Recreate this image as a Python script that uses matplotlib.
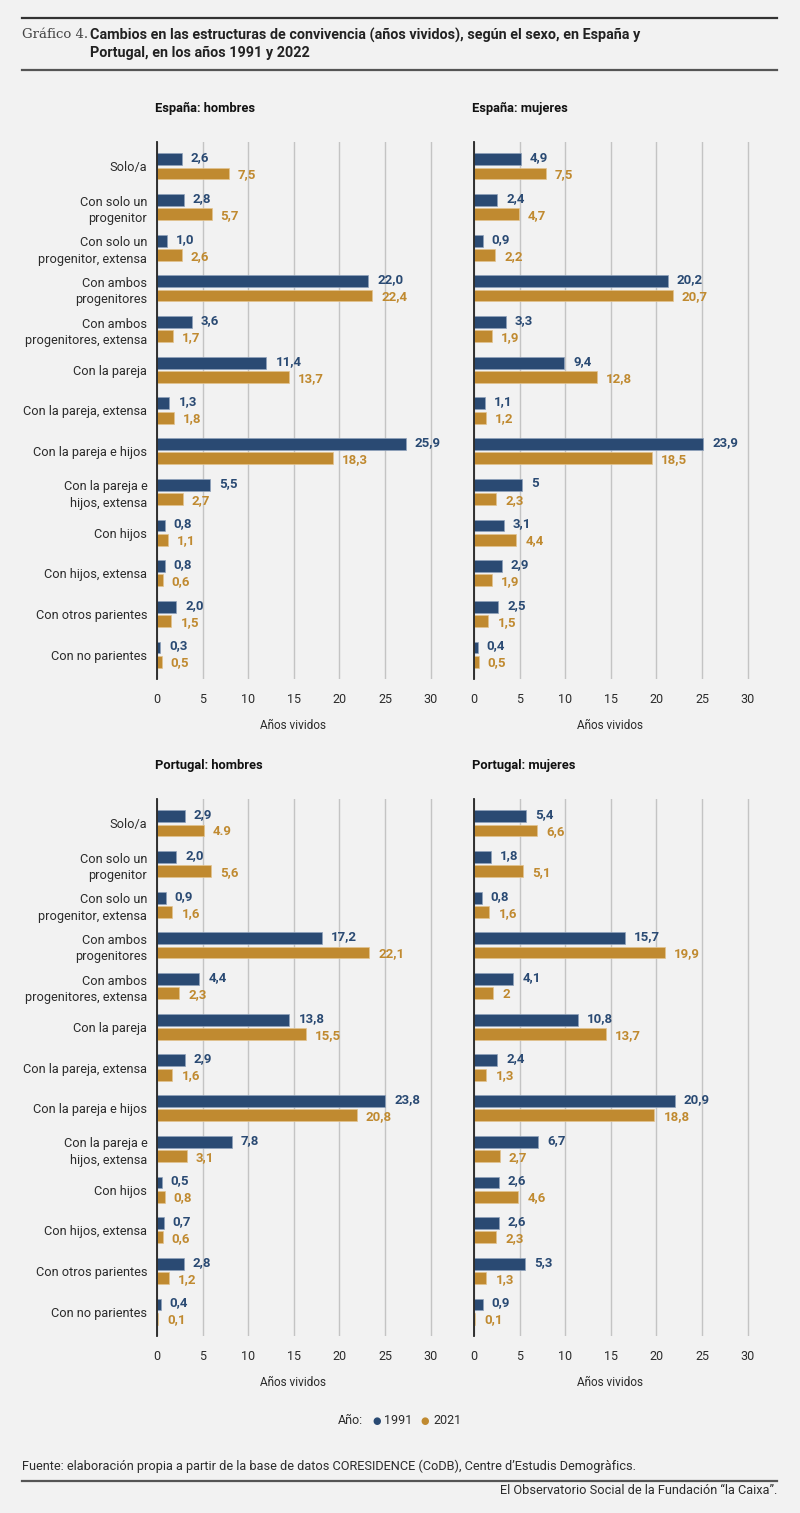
import matplotlib.pyplot as plt
from matplotlib.lines import Line2D

W, H = 800, 1513

categories = ["Solo/a", "Con solo un\nprogenitor", "Con solo un\nprogenitor, extensa",
              "Con ambos\nprogenitores", "Con ambos\nprogenitores, extensa", "Con la pareja",
              "Con la pareja, extensa", "Con la pareja e hijos", "Con la pareja e\nhijos, extensa",
              "Con hijos", "Con hijos, extensa", "Con otros parientes", "Con no parientes"]

# labels as printed in the chart (values parsed from them)
es_h_1991 = ["2,6", "2,8", "1,0", "22,0", "3,6", "11,4", "1,3", "25,9", "5,5", "0,8", "0,8", "2,0", "0,3"]
es_h_2021 = ["7,5", "5,7", "2,6", "22,4", "1,7", "13,7", "1,8", "18,3", "2,7", "1,1", "0,6", "1,5", "0,5"]
es_m_1991 = ["4,9", "2,4", "0,9", "20,2", "3,3", "9,4", "1,1", "23,9", "5", "3,1", "2,9", "2,5", "0,4"]
es_m_2021 = ["7,5", "4,7", "2,2", "20,7", "1,9", "12,8", "1,2", "18,5", "2,3", "4,4", "1,9", "1,5", "0,5"]
pt_h_1991 = ["2,9", "2,0", "0,9", "17,2", "4,4", "13,8", "2,9", "23,8", "7,8", "0,5", "0,7", "2,8", "0,4"]
pt_h_2021 = ["4.9", "5,6", "1,6", "22,1", "2,3", "15,5", "1,6", "20,8", "3,1", "0,8", "0,6", "1,2", "0,1"]
pt_m_1991 = ["5,4", "1,8", "0,8", "15,7", "4,1", "10,8", "2,4", "20,9", "6,7", "2,6", "2,6", "5,3", "0,9"]
pt_m_2021 = ["6,6", "5,1", "1,6", "19,9", "2", "13,7", "1,3", "18,8", "2,7", "4,6", "2,3", "1,3", "0,1"]

panels = [("España: hombres", es_h_1991, es_h_2021),
          ("España: mujeres", es_m_1991, es_m_2021),
          ("Portugal: hombres", pt_h_1991, pt_h_2021),
          ("Portugal: mujeres", pt_m_1991, pt_m_2021)]

BLUE = "#2a4a73"
GOLD = "#c08a30"
BG = "#f2f2f2"
TXT = "#2b2b2b"

plt.rcParams['font.family'] = ['Roboto', 'DejaVu Sans']

fig = plt.figure(figsize=(W / 100, H / 100), dpi=100, facecolor=BG)


def px(x, y):
    return x / W, 1 - y / H


def fig_line(y, lw, color):
    fig.add_artist(Line2D([22 / W, 777 / W], [1 - y / H, 1 - y / H], lw=lw, color=color,
                          transform=fig.transFigure))


def num(s):
    return float(s.replace(",", "."))


# header
fig_line(18, 1.6, "#333333")
fig_line(70, 1.6, "#555555")
fig.text(*px(22, 35), "Gráfico 4.", family="DejaVu Serif", fontsize=9.5, color="#444444", va="center")
fig.text(*px(90, 35), "Cambios en las estructuras de convivencia (años vividos), según el sexo, en España y",
         fontsize=10.4, weight="bold", color="#222222", va="center")
fig.text(*px(90, 53), "Portugal, en los años 1991 y 2022", fontsize=10.4, weight="bold",
         color="#222222", va="center")

lefts = [157, 474]
tops = [142, 799]
ax_w = 9.12 * 31
ax_h = 537
# in the original the bars are drawn slightly longer than the axis grid implies
bar_scale = 9.6 / 9.12
ypos = list(range(len(categories)))

for i, (title, v91, v21) in enumerate(panels):
    x0 = lefts[i % 2]
    y0 = tops[i // 2]
    rect = [x0 / W, 1 - (y0 + ax_h) / H, ax_w / W, ax_h / H]

    # grid / tick axes
    ax = fig.add_axes(rect)
    ax.set_facecolor(BG)
    ax.set_xlim(0, 31)
    ax.set_ylim(12.6, -0.6)
    ax.set_xticks([0, 5, 10, 15, 20, 25, 30])
    ax.grid(axis="x", color="#c4c4c4", lw=1, zorder=0)
    for s in ["top", "right", "bottom", "left"]:
        ax.spines[s].set_visible(False)
    ax.tick_params(axis="both", length=0, labelsize=9, colors=TXT)
    ax.tick_params(axis="x", pad=10)
    ax.tick_params(axis="y", pad=7)
    ax.set_yticks(ypos)
    if i % 2 == 0:
        ax.set_yticklabels(categories, fontsize=9.2, color=TXT, linespacing=1.35)
    else:
        ax.set_yticklabels([])
    ax.set_xlabel("Años vividos", fontsize=8.5, color=TXT)
    ax.xaxis.set_label_coords(0.48, -0.074)

    # bar axes
    bx = fig.add_axes(rect)
    bx.patch.set_alpha(0)
    bx.set_xlim(0, 31 / bar_scale)
    bx.set_ylim(12.6, -0.6)
    bx.set_xticks([])
    bx.set_yticks([])
    for s in ["top", "right", "bottom"]:
        bx.spines[s].set_visible(False)
    bx.spines["left"].set_color("#222222")
    bx.spines["left"].set_linewidth(1.3)
    bx.spines["left"].set_zorder(4)

    a = [num(s) for s in v91]
    b = [num(s) for s in v21]
    off = 0.175
    bh = 0.29
    bx.barh([p - off for p in ypos], a, height=bh, color=BLUE, edgecolor="#8fa2bb", lw=0.5, zorder=3)
    bx.barh([p + off for p in ypos], b, height=bh, color=GOLD, edgecolor="#e3c48f", lw=0.5, zorder=3)
    for p, val, s in zip(ypos, a, v91):
        bx.annotate(s, (val, p - off), xytext=(6.5, 1), textcoords="offset points", va="center",
                    ha="left", fontsize=9.5, weight="bold", color=BLUE, annotation_clip=False)
    for p, val, s in zip(ypos, b, v21):
        bx.annotate(s, (val, p + off), xytext=(6.5, -1), textcoords="offset points", va="center",
                    ha="left", fontsize=9.5, weight="bold", color=GOLD, annotation_clip=False)

    fig.text(*px(x0 - 2, y0 - 34), title, fontsize=9.3, weight="bold", color="#111111", va="center")

# legend
fig.text(*px(338, 1421), "Año:", fontsize=9, color=TXT, va="center")
fig.text(*px(372, 1421), "●", fontsize=7, color=BLUE, va="center")
fig.text(*px(384, 1421), "1991", fontsize=9, color=TXT, va="center")
fig.text(*px(420, 1421), "●", fontsize=7, color=GOLD, va="center")
fig.text(*px(433, 1421), "2021", fontsize=9, color=TXT, va="center")

# footer
fig.text(*px(22, 1466), "Fuente: elaboración propia a partir de la base de datos CORESIDENCE (CoDB), Centre d’Estudis Demogràfics.",
         fontsize=9.2, color=TXT, va="center")
fig_line(1481, 1.6, "#555555")
fig.text(*px(777, 1490), "El Observatorio Social de la Fundación “la Caixa”.", fontsize=9.2, color=TXT,
         va="center", ha="right")

fig.savefig("out.png", dpi=100, facecolor=BG)
